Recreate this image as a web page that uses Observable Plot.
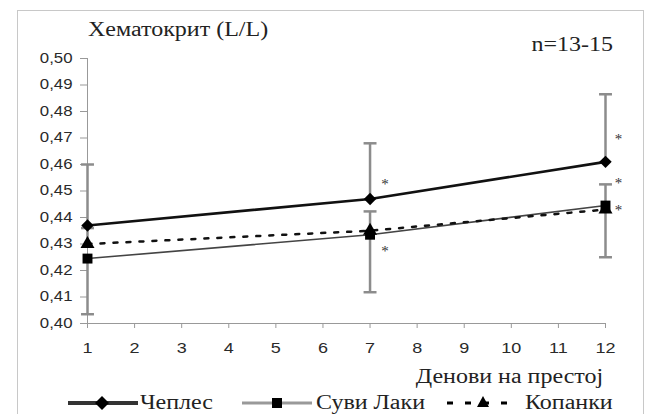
<!DOCTYPE html>
<html>
<head>
<meta charset="utf-8">
<script src="https://cdn.jsdelivr.net/npm/d3@7"></script>
<script src="https://cdn.jsdelivr.net/npm/@observablehq/plot@0.6"></script>
<style>
  html, body { margin: 0; padding: 0; background: #fff; }
  #wrap { position: relative; width: 653px; height: 414px; overflow: hidden; }
  #wrap svg.plot { position: absolute; left: 0; top: 0; }
  .frame { position: absolute; left: 17px; top: 10px; width: 627px; height: 420px; border: 1.5px solid #c8c8c8; box-sizing: border-box; }
  .t { position: absolute; font-family: "Liberation Serif", serif; font-size: 20px; line-height: 20px; color: #222; white-space: nowrap; transform: scaleX(1.2); }
  .tl { transform-origin: left center; }
  .tr { transform-origin: right center; }
</style>
</head>
<body>
<div id="wrap">
  <div class="frame"></div>
</div>
<script>
// ---- data ----
const days = [1, 7, 12];
const seriesNames = ["Чеплес", "Суви Лаки", "Копанки"];
const ceples   = [0.437, 0.447, 0.461];
const suviLaki = [0.4245, 0.4335, 0.4445];
const kopanki  = [0.430, 0.435, 0.443];
// one-sided error bars (upper for Чеплес & Копанки, lower for Суви Лаки)
const ceplesPlus   = [0.023, 0.021, 0.0255];
const suviMinus    = [0.021, 0.0217, 0.0195];
const kopankiPlus  = [0.006, 0.0073, 0.0095];
// significance asterisks
const starDays = [7, 7, 12, 12, 12];
const starY    = [0.4540, 0.4287, 0.4709, 0.4543, 0.4442];
const yTicks = [0.40, 0.41, 0.42, 0.43, 0.44, 0.45, 0.46, 0.47, 0.48, 0.49, 0.50];
const xTicks = [1, 2, 3, 4, 5, 6, 7, 8, 9, 10, 11, 12];
const titleText = "Хематокрит (L/L)";
const nText = "n=13-15";
const xLabel = "Денови на престој";

// ---- tables ----
const values = [ceples, suviLaki, kopanki];
const rows = [];
seriesNames.forEach((s, i) => days.forEach((d, j) => rows.push({series: s, day: d, value: values[i][j]})));
const errRows = [];
days.forEach((d, j) => {
  errRows.push({day: d, lo: ceples[j], hi: ceples[j] + ceplesPlus[j]});
  errRows.push({day: d, lo: suviLaki[j] - suviMinus[j], hi: suviLaki[j]});
  errRows.push({day: d, lo: kopanki[j], hi: kopanki[j] + kopankiPlus[j]});
});
const capRows = [];
days.forEach((d, j) => {
  capRows.push({day: d, y: ceples[j] + ceplesPlus[j]});
  capRows.push({day: d, y: suviLaki[j] - suviMinus[j]});
  capRows.push({day: d, y: kopanki[j] + kopankiPlus[j]});
});
const stars = starDays.map((d, i) => ({day: d, y: starY[i]}));

const capSymbol = { draw(ctx, size) { const w = Math.sqrt(size); ctx.moveTo(-w / 2, 0); ctx.lineTo(w / 2, 0); } };
const bySeries = s => rows.filter(r => r.series === s);

const gray = "#8c8c8c";
const plot = Plot.plot({
  width: 653,
  height: 414,
  marginLeft: 87,
  marginRight: 48,
  marginTop: 58,
  marginBottom: 91,
  style: { fontFamily: "Liberation Sans, Arial, sans-serif", background: "transparent" },
  x: { domain: [1, 12] },
  y: { domain: [0.40, 0.50] },
  marks: [
    Plot.ruleX([1], { stroke: "#999", strokeWidth: 1 }),
    Plot.ruleY([0.40], { stroke: "#999", strokeWidth: 1 }),
    Plot.axisY({ ticks: yTicks, tickFormat: d => d.toFixed(2).replace(".", ","), tickSize: 7, tickPadding: 8, fontSize: 14, stroke: "#999", fill: "#2a2a2a", label: null }),
    Plot.axisX({ ticks: xTicks, tickFormat: d => String(d), tickSize: 5, tickPadding: 14, fontSize: 15, stroke: "#999", fill: "#2a2a2a", label: null }),
    Plot.ruleX(errRows, { x: "day", y1: "lo", y2: "hi", stroke: gray, strokeWidth: 2.5 }),
    Plot.dot(capRows, { x: "day", y: "y", symbol: capSymbol, r: 7.3, stroke: gray, strokeWidth: 2.5, fill: "none" }),
    Plot.line(bySeries("Суви Лаки"), { x: "day", y: "value", stroke: "#444", strokeWidth: 1.6 }),
    Plot.line(bySeries("Копанки"), { x: "day", y: "value", stroke: "#111", strokeWidth: 2.5, strokeDasharray: "4,9" }),
    Plot.line(bySeries("Чеплес"), { x: "day", y: "value", stroke: "#111", strokeWidth: 2.6 }),
    Plot.dot(bySeries("Копанки"), { x: "day", y: "value", symbol: "triangle", r: 5.2, fill: "#000" }),
    Plot.dot(bySeries("Суви Лаки"), { x: "day", y: "value", symbol: "square", r: 5.6, fill: "#000" }),
    Plot.dot(bySeries("Чеплес"), { x: "day", y: "value", symbol: "diamond2", r: 5.6, fill: "#000" }),
    Plot.text(stars, { x: "day", y: "y", text: () => "*", dx: 15, dy: 4, fontSize: 15, fontFamily: "Liberation Serif", fill: "#333" })
  ]
});
plot.classList.add("plot");
// stretch tick labels horizontally like the reference
plot.querySelectorAll('g[aria-label$="tick label"] text').forEach(t => {
  const tr = t.getAttribute("transform");
  if (tr) t.setAttribute("transform", tr + " scale(1.2,1)");
});
// asterisks at day 12 are a bit closer
plot.querySelectorAll('g[aria-label="text"] text').forEach((t, i) => {
  if (starDays[i] === 12) {
    const tr = t.getAttribute("transform");
    if (tr) t.setAttribute("transform", tr + " translate(-2,0)");
  }
});
const wrap = document.getElementById("wrap");
wrap.insertBefore(plot, wrap.firstChild);

function addText(txt, opts) {
  const d = document.createElement("div");
  d.className = "t " + (opts.right != null ? "tr" : "tl");
  d.textContent = txt;
  if (opts.left != null) d.style.left = opts.left + "px";
  if (opts.right != null) d.style.right = opts.right + "px";
  d.style.top = (opts.cy - 11) + "px";
  if (opts.size) d.style.fontSize = opts.size + "px";
  wrap.appendChild(d);
}
addText(titleText, { left: 88, cy: 30 });
addText(nText, { right: 40, cy: 45 });
addText(xLabel, { right: 50, cy: 377 });

// legend
const ns = "http://www.w3.org/2000/svg";
const leg = document.createElementNS(ns, "svg");
leg.setAttribute("width", 653); leg.setAttribute("height", 414);
leg.style.position = "absolute"; leg.style.left = "0"; leg.style.top = "0";
const ly = 403;
leg.innerHTML = `
  <line x1="68" x2="138" y1="${ly}" y2="${ly}" stroke="#333" stroke-width="4"/>
  <polygon points="102,${ly-7} 109,${ly} 102,${ly+7} 95,${ly}" fill="#000"/>
  <line x1="242" x2="312" y1="${ly}" y2="${ly}" stroke="#999" stroke-width="3"/>
  <rect x="272" y="${ly-5}" width="10" height="10" fill="#000"/>
  <line x1="447" x2="519" y1="${ly}" y2="${ly}" stroke="#000" stroke-width="3" stroke-dasharray="6,12"/>
  <polygon points="483,${ly-7} 489,${ly+4} 477,${ly+4}" fill="#000"/>
`;
wrap.appendChild(leg);
addText(seriesNames[0], { left: 140, cy: ly });
addText(seriesNames[1], { left: 316, cy: ly });
addText(seriesNames[2], { left: 525, cy: ly });
</script>
</body>
</html>
